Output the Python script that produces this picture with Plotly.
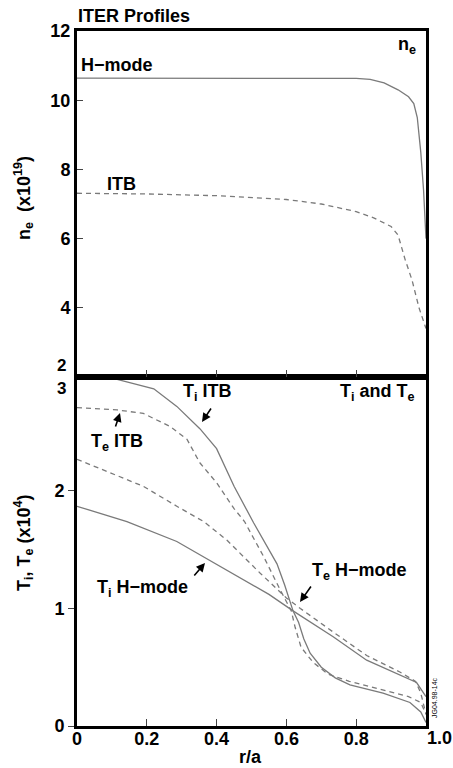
import plotly.graph_objects as go

# ---------------- data ----------------
# upper panel: electron density n_e (x10^19)
r_ne_hmode = [0, 0.2, 0.4, 0.6, 0.8, 0.84, 0.88, 0.92, 0.95, 0.965, 0.975, 0.985, 0.993, 1.0]
ne_hmode = [10.64, 10.64, 10.65, 10.64, 10.63, 10.6, 10.5, 10.3, 10.1, 9.9, 9.5, 8.5, 7.4, 6.0]

r_ne_itb = [0, 0.2, 0.4, 0.6, 0.7, 0.8, 0.85, 0.9, 0.92, 0.94, 0.96, 0.98, 1.0]
ne_itb = [7.31, 7.29, 7.24, 7.13, 7.0, 6.78, 6.6, 6.35, 6.1, 5.4, 4.8, 4.0, 3.4]

# lower panel: temperatures T_i, T_e (x10^4)
r_ti_itb = [0, 0.115, 0.22, 0.286, 0.352, 0.4, 0.45, 0.506, 0.573, 0.595, 0.619, 0.635, 0.65,
            0.668, 0.7, 0.74, 0.782, 0.877, 0.954, 0.985, 1.0]
ti_itb = [2.96, 2.95, 2.87, 2.72, 2.53, 2.36, 2.04, 1.73, 1.38, 1.2, 0.98, 0.88, 0.74,
          0.62, 0.5, 0.41, 0.35, 0.28, 0.2, 0.12, 0.03]

r_te_itb = [0, 0.115, 0.19, 0.266, 0.315, 0.352, 0.4, 0.45, 0.48, 0.535, 0.582, 0.614, 0.625,
            0.642, 0.677, 0.72, 0.78, 0.897, 0.95, 0.985, 1.0]
te_itb = [2.71, 2.69, 2.66, 2.55, 2.44, 2.24, 2.07, 1.85, 1.74, 1.44, 1.16, 0.98, 0.84,
          0.67, 0.54, 0.44, 0.38, 0.29, 0.25, 0.2, 0.1]

r_ti_hmode = [0, 0.143, 0.286, 0.38, 0.48, 0.55, 0.619, 0.734, 0.83, 0.925, 0.973, 1.0]
ti_hmode = [1.87, 1.74, 1.57, 1.41, 1.24, 1.12, 0.98, 0.76, 0.56, 0.43, 0.37, 0.25]

r_te_hmode = [0, 0.1, 0.19, 0.286, 0.363, 0.43, 0.525, 0.6, 0.64, 0.734, 0.83, 0.925, 0.97, 0.985, 1.0]
te_hmode = [2.27, 2.15, 2.04, 1.87, 1.74, 1.58, 1.3, 1.09, 1.0, 0.8, 0.6, 0.46, 0.38, 0.28, 0.1]

x_tickvals = [0, 0.2, 0.4, 0.6, 0.8, 1.0]
x_ticktext = ["0", "0.2", "0.4", "0.6", "0.8", ""]
ne_tickvals = [4, 6, 8, 10, 12]
t_tickvals = [0, 1, 2]

# ---------------- layout geometry ----------------
W, H = 453, 768
L, R, T, B = 77, 27, 31, 42
PW = W - L - R
PH = H - T - B


def fx(px):
    return (px - L) / PW


def fy(py):
    return (H - B - py) / PH


split = fy(377)
FONT = "Liberation Sans, Arial, Helvetica, sans-serif"
LINE = "#7a7a7a"

fig = go.Figure()

# upper panel (x2, y2)
fig.add_trace(go.Scatter(x=r_ne_hmode, y=ne_hmode, mode="lines", xaxis="x2", yaxis="y2",
                         line=dict(color=LINE, width=1.3), showlegend=False))
fig.add_trace(go.Scatter(x=r_ne_itb, y=ne_itb, mode="lines", xaxis="x2", yaxis="y2",
                         line=dict(color=LINE, width=1.3, dash="5px,4px"), showlegend=False))
# lower panel (x, y)
fig.add_trace(go.Scatter(x=r_ti_itb, y=ti_itb, mode="lines",
                         line=dict(color=LINE, width=1.3), showlegend=False))
fig.add_trace(go.Scatter(x=r_te_itb, y=te_itb, mode="lines",
                         line=dict(color=LINE, width=1.3, dash="5px,4px"), showlegend=False))
fig.add_trace(go.Scatter(x=r_ti_hmode, y=ti_hmode, mode="lines",
                         line=dict(color=LINE, width=1.3), showlegend=False))
fig.add_trace(go.Scatter(x=r_te_hmode, y=te_hmode, mode="lines",
                         line=dict(color=LINE, width=1.3, dash="5px,4px"), showlegend=False))

tickfont = dict(family=FONT, size=18, color="black", weight="bold")
frame = dict(showline=True, linewidth=3, linecolor="black", mirror=True,
             showgrid=False, zeroline=False)

fig.update_layout(
    width=W, height=H,
    margin=dict(l=L, r=R, t=T, b=B, autoexpand=False),
    paper_bgcolor="white", plot_bgcolor="white",
    font=dict(family=FONT, color="black"),
    xaxis=dict(domain=[0, 1], anchor="y", range=[0, 1], tickvals=x_tickvals, ticktext=x_ticktext,
               ticks="inside", ticklen=7, tickwidth=1, tickcolor="#444", tickfont=tickfont,
               ticklabelstandoff=-6, **frame),
    yaxis=dict(domain=[0, split], anchor="x", range=[0, 2.97], tickvals=t_tickvals,
               ticks="outside", ticklen=6, tickwidth=1, tickcolor="#444", tickfont=tickfont, **frame),
    xaxis2=dict(domain=[0, 1], anchor="y2", range=[0, 1], tickvals=[0.2, 0.4, 0.6, 0.8],
                showticklabels=False, ticks="inside", ticklen=7, tickwidth=1, tickcolor="#444", **frame),
    yaxis2=dict(domain=[split, 1], anchor="x2", range=[2, 12], tickvals=ne_tickvals,
                ticks="inside", ticklen=6, tickwidth=1, tickcolor="#444", tickfont=tickfont, **frame),
)

ann = []


def text(px, py, s, size=18, weight="bold", xanchor="center", angle=0):
    ann.append(dict(x=fx(px), y=fy(py), xref="paper", yref="paper", text=s, showarrow=False,
                    xanchor=xanchor, yanchor="middle", textangle=angle,
                    font=dict(family=FONT, size=size, color="black", weight=weight)))


text(134, 16, "ITER Profiles")
text(407, 46, "n<sub>e</sub>")
text(117, 65, "H\u2212mode")
text(121, 184, "ITB")
text(207, 392, "T<sub>i</sub> ITB")
text(377, 392, "T<sub>i</sub> and T<sub>e</sub>")
text(117, 442, "T<sub>e</sub> ITB")
text(142, 588, "T<sub>i</sub> H\u2212mode")
text(359, 571, "T<sub>e</sub> H\u2212mode")
text(250, 757, "r/a")
text(23, 198, "n<sub>e</sub>  (x10<sup>19</sup>)", angle=-90)
text(23, 543, "T<sub>i</sub>, T<sub>e</sub> (x10<sup>4</sup>)", angle=-90)
text(68, 365, "2", size=17, xanchor="right")
text(68, 388, "3", size=17, xanchor="right")
text(439, 738, "1.0")
text(434, 698, "JG04.98-14c", size=7, weight="normal", angle=-90)


def arrow(hx, hy, tx, ty):
    # head at pixel (hx, hy), tail at pixel (tx, ty)
    ann.append(dict(x=fx(hx), y=fy(hy), xref="paper", yref="paper", text="", showarrow=True,
                    ax=tx - hx, ay=ty - hy, axref="pixel", ayref="pixel",
                    arrowhead=2, arrowsize=1.1, arrowwidth=1.6, arrowcolor="black"))


arrow(202, 422, 212, 407)
arrow(120, 413, 115, 428)
arrow(205, 563, 193, 577)
arrow(300, 602, 312, 585)

fig.update_layout(annotations=ann)
fig.write_html("out.html")
